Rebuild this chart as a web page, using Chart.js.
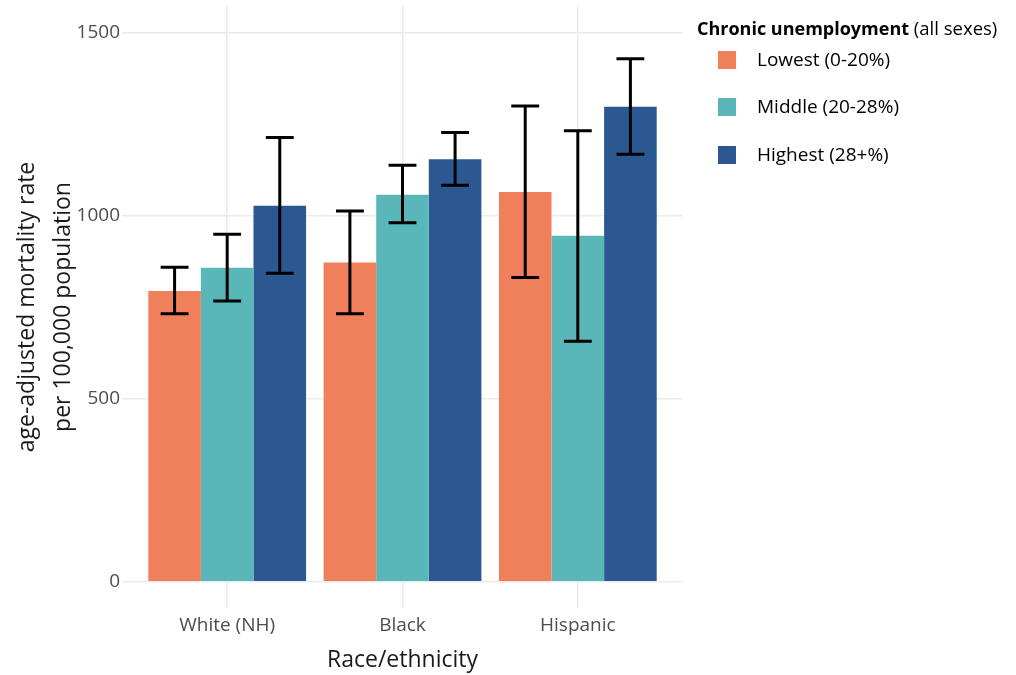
<!DOCTYPE html>
<html>
<head>
<meta charset="utf-8">
<title>Age-adjusted mortality by race/ethnicity and chronic unemployment</title>
<script src="https://cdn.jsdelivr.net/npm/chart.js@4/dist/chart.umd.min.js"></script>
<style>
  html, body { margin: 0; padding: 0; background: #ffffff; }
  #wrap { position: relative; width: 1016px; height: 675px; }
</style>
</head>
<body>
<div id="wrap"><canvas id="chart" width="1016" height="675"></canvas></div>
<script>
// Categories on the x axis
const categories = ['White (NH)', 'Black', 'Hispanic'];

// Chronic unemployment groups
const seriesLabels = ['Lowest (0-20%)', 'Middle (20-28%)', 'Highest (28+%)'];
const seriesColors = ['#F0805C', '#59B7B9', '#2B5891'];

// Age-adjusted mortality rate per 100,000 population
const lowestRate  = [794, 872, 1065];
const middleRate  = [858, 1057, 945];
const highestRate = [1027, 1154, 1298];

// Confidence interval bounds
const lowestLower  = [732, 732, 831];
const lowestUpper  = [859, 1013, 1300];
const middleLower  = [767, 981, 657];
const middleUpper  = [949, 1138, 1232];
const highestLower = [843, 1083, 1168];
const highestUpper = [1214, 1227, 1429];

// Y axis tick values
const yTicks = [0, 500, 1000, 1500];

const FONT = "'Open Sans', 'Noto Sans', sans-serif";

const rates  = [lowestRate, middleRate, highestRate];
const lowers = [lowestLower, middleLower, highestLower];
const uppers = [lowestUpper, middleUpper, highestUpper];

const datasets = rates.map((vals, s) => ({
  label: seriesLabels[s],
  data: vals.map((v, i) => ({ x: i + 1, y: v })),
  backgroundColor: seriesColors[s],
  borderWidth: 0,
  lower: lowers[s],
  upper: uppers[s],
  categoryPercentage: 0.9,
  barPercentage: 1.0
}));

// Whiskers for the confidence intervals, drawn over the bars
const errorBars = {
  id: 'errorBars',
  afterDatasetsDraw(chart) {
    const ctx = chart.ctx;
    const y = chart.scales.y;
    ctx.save();
    ctx.strokeStyle = '#000000';
    ctx.lineWidth = 3;
    ctx.lineCap = 'butt';
    chart.data.datasets.forEach((ds, di) => {
      const meta = chart.getDatasetMeta(di);
      meta.data.forEach((bar, i) => {
        const cx = bar.x;
        const half = bar.width * 0.265;
        const yl = y.getPixelForValue(ds.lower[i]);
        const yu = y.getPixelForValue(ds.upper[i]);
        ctx.beginPath();
        ctx.moveTo(cx, yl); ctx.lineTo(cx, yu);
        ctx.moveTo(cx - half, yu); ctx.lineTo(cx + half, yu);
        ctx.moveTo(cx - half, yl); ctx.lineTo(cx + half, yl);
        ctx.stroke();
      });
    });
    ctx.restore();
  }
};

// Legend at the right with a mixed-weight title
const sideLegend = {
  id: 'sideLegend',
  afterDraw(chart) {
    const ctx = chart.ctx;
    ctx.save();
    ctx.textBaseline = 'middle';
    ctx.textAlign = 'left';
    ctx.fillStyle = '#000000';
    const titleBold = 'Chronic unemployment';
    const titleRest = ' (all sexes)';
    ctx.font = 'bold 18px ' + FONT;
    ctx.fillText(titleBold, 697, 30);
    const w = ctx.measureText(titleBold).width;
    ctx.font = '18.5px ' + FONT;
    ctx.fillText(titleRest, 697 + w, 30);
    const rowY = [60, 107, 155];
    chart.data.datasets.forEach((ds, i) => {
      ctx.fillStyle = ds.backgroundColor;
      ctx.fillRect(718, rowY[i] - 9, 18, 18);
      ctx.fillStyle = '#000000';
      ctx.font = '19px ' + FONT;
      ctx.fillText(ds.label, 757, rowY[i] + 1);
    });
    ctx.restore();
  }
};

new Chart(document.getElementById('chart'), {
  type: 'bar',
  data: { datasets },
  plugins: [errorBars, sideLegend],
  options: {
    responsive: false,
    animation: false,
    layout: { padding: { left: 0, right: 333, top: 6, bottom: 0 } },
    plugins: {
      legend: { display: false },
      tooltip: { enabled: false }
    },
    scales: {
      x: {
        type: 'linear',
        min: 0.4,
        max: 3.6,
        offset: false,
        afterBuildTicks(scale) {
          scale.ticks = categories.map((c, i) => ({ value: i + 1 }));
        },
        afterFit(scale) {
          scale.height = 67;
          scale.paddingLeft = 0;
          scale.paddingRight = 0;
        },
        ticks: {
          callback: (v) => categories[Math.round(v) - 1] || '',
          color: '#4D4D4D',
          font: { family: FONT, size: 19 },
          padding: 6,
          maxRotation: 0,
          autoSkip: false
        },
        grid: { color: '#EBEBEB', lineWidth: 1.5, drawTicks: false, offset: false },
        border: { display: false },
        title: {
          display: true,
          text: 'Race/ethnicity',
          color: '#1A1A1A',
          font: { family: FONT, size: 23 },
          padding: { top: 0, bottom: 1 }
        }
      },
      y: {
        min: -72,
        max: 1573,
        afterBuildTicks(scale) {
          scale.ticks = yTicks.map(v => ({ value: v }));
        },
        afterFit(scale) {
          scale.width = 122;
          scale.paddingTop = 0;
          scale.paddingBottom = 0;
        },
        ticks: {
          callback: (v) => String(v),
          color: '#4D4D4D',
          font: { family: FONT, size: 19 },
          padding: 2
        },
        grid: { color: '#EBEBEB', lineWidth: 1.5, drawTicks: false },
        border: { display: false },
        title: {
          display: true,
          text: ['age-adjusted mortality rate', 'per 100,000 population'],
          color: '#1A1A1A',
          font: { family: FONT, size: 23, lineHeight: 1.57 },
          padding: { top: 9, bottom: 0 }
        }
      }
    }
  }
});
</script>
</body>
</html>
